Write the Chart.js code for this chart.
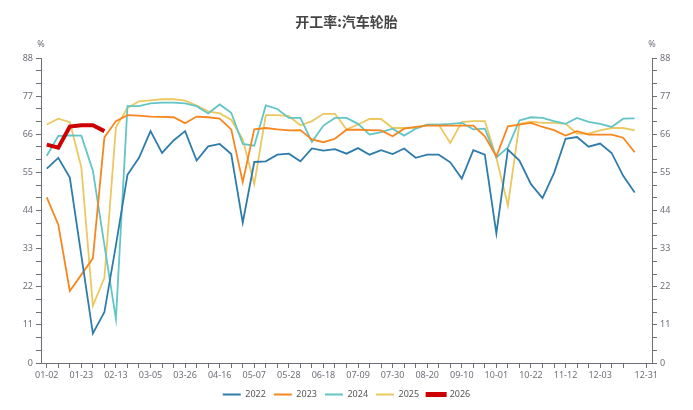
<!DOCTYPE html>
<html>
<head>
<meta charset="utf-8">
<script src="https://cdn.jsdelivr.net/npm/chart.js@4.4.1/dist/chart.umd.min.js"></script>
<style>
  html, body { margin: 0; padding: 0; background: #fff; }
  #wrap { width: 693px; height: 410px; }
</style>
</head>
<body>
<div id="wrap"><canvas id="c" width="693" height="410"></canvas></div>
<script>
const titleText = '开工率:汽车轮胎';
const unitLabel = '%';

const categories = ['01-02','01-09','01-16','01-23','01-30','02-06','02-13','02-20','02-27','03-05','03-12','03-19','03-26','04-02','04-09','04-16','04-23','04-30','05-07','05-14','05-21','05-28','06-04','06-11','06-18','06-25','07-02','07-09','07-16','07-23','07-30','08-06','08-13','08-20','08-27','09-03','09-10','09-17','09-24','10-01','10-08','10-15','10-22','10-29','11-05','11-12','11-19','11-26','12-03','12-10','12-17','12-24','12-31'];

const xTickLabels = ['01-02','01-23','02-13','03-05','03-26','04-16','05-07','05-28','06-18','07-09','07-30','08-20','09-10','10-01','10-22','11-12','12-03','12-31'];
const hiddenTickCategory = '12-24';

const yTicks = [0, 11, 22, 33, 44, 55, 66, 77, 88];

const seriesNames = ['2022', '2023', '2024', '2025', '2026'];

const v2022 = [56.1,59.2,53.5,31.0,8.5,14.7,34.0,54.3,59.2,66.9,60.6,64.2,66.9,58.4,62.5,63.2,60.3,40.5,58.0,58.2,60.1,60.4,58.2,61.9,61.3,61.7,60.4,62.0,60.1,61.4,60.3,61.9,59.2,60.1,60.1,57.9,53.2,61.4,60.1,37.4,61.6,58.4,51.6,47.6,54.8,64.7,65.2,62.4,63.3,60.6,54.0,49.2,null];
const v2023 = [47.8,39.9,20.8,25.5,30.2,65.1,69.8,71.5,71.4,71.1,71.0,70.9,69.2,71.1,70.9,70.5,67.4,52.2,67.4,67.8,67.4,67.1,67.2,64.5,63.7,64.7,67.3,67.3,67.2,67.1,65.4,67.6,68.1,68.5,68.5,68.5,68.5,68.5,65.4,59.6,68.3,68.8,69.3,68.1,67.2,65.6,66.9,65.9,65.9,65.9,65.0,60.8,null];
const v2024 = [59.8,65.5,65.7,65.6,55.5,34.0,12.7,74.1,74.1,74.9,75.1,75.1,74.9,74.1,72.0,74.6,72.2,63.2,62.7,74.3,73.3,70.7,70.7,63.8,68.5,70.7,70.7,69.0,65.9,66.6,67.6,65.6,67.6,68.8,68.8,69.0,69.3,67.4,67.6,59.3,62.2,70.0,70.9,70.7,69.8,69.0,70.7,69.6,69.0,68.1,70.5,70.6,null];
const v2025 = [68.8,70.5,69.5,56.4,16.5,24.6,68.0,73.6,75.5,75.8,76.1,76.1,75.7,74.3,72.6,72.0,70.2,64.5,51.6,71.5,71.5,71.2,68.6,69.8,71.9,71.9,67.4,68.8,70.4,70.4,67.8,67.8,67.8,68.8,68.8,63.5,69.5,69.8,69.8,59.2,45.4,69.0,69.6,69.3,69.3,69.0,66.2,66.2,67.1,67.8,67.8,67.1,null];
const v2026 = [63.0,62.1,68.2,68.6,68.6,66.9];

const seriesValues = [v2022, v2023, v2024, v2025, v2026];
const seriesColors = ['#2e7cab', '#f7861f', '#62c5c6', '#ebc860', '#cc0000'];
const seriesWidths = [1.8, 1.8, 1.8, 1.8, 4];
const legendStroke = [0, 0, 0, 0, 3];

const FONT = '"Noto Sans", "Open Sans", sans-serif';
const AXIS_COLOR = '#6e7079';

const datasets = seriesNames.map((name, i) => ({
  label: name,
  data: seriesValues[i],
  borderColor: seriesColors[i],
  backgroundColor: seriesColors[i],
  borderWidth: seriesWidths[i],
  pointRadius: 0,
  pointHoverRadius: 0,
  tension: 0,
  fill: false,
  spanGaps: false,
  order: i === 4 ? 0 : i + 1
}));

function buildYTicks(scale) {
  const t = [];
  for (let k = 0; k < yTicks.length; k++) {
    t.push({ value: yTicks[k] });
    if (k < yTicks.length - 1) {
      const step = (yTicks[k + 1] - yTicks[k]) / 3;
      t.push({ value: yTicks[k] + step });
      t.push({ value: yTicks[k] + 2 * step });
    }
  }
  scale.ticks = t;
}
function yLabel(v) {
  const r = Math.round(v * 1000) / 1000;
  return yTicks.includes(r) ? String(r) : '';
}

const unitPlugin = {
  id: 'unitPlugin',
  afterDraw(chart) {
    const ctx = chart.ctx;
    const a = chart.chartArea;
    ctx.save();
    ctx.font = '9px ' + FONT;
    ctx.fillStyle = AXIS_COLOR;
    ctx.textAlign = 'center';
    ctx.textBaseline = 'middle';
    ctx.fillText(unitLabel, a.left, 44);
    ctx.fillText(unitLabel, a.right, 44);
    ctx.restore();
  }
};

const yCommon = {
  min: 0,
  max: 88,
  afterBuildTicks: buildYTicks,
  ticks: {
    autoSkip: false,
    padding: 3,
    color: AXIS_COLOR,
    font: { size: 9, family: FONT },
    callback: yLabel
  },
  grid: {
    drawOnChartArea: false,
    drawTicks: true,
    tickLength: 5,
    color: AXIS_COLOR
  },
  border: { display: true, color: AXIS_COLOR, width: 1 }
};

new Chart(document.getElementById('c'), {
  type: 'line',
  data: { labels: categories, datasets: datasets },
  plugins: [unitPlugin],
  options: {
    responsive: false,
    animation: false,
    devicePixelRatio: 1,
    layout: { padding: { top: 0, bottom: 1, left: 0, right: 0 } },
    plugins: {
      title: {
        display: true,
        text: titleText,
        color: '#464646',
        font: { size: 14, weight: 'bold', family: '"Noto Sans CJK SC", ' + FONT, lineHeight: 1.2 },
        padding: { top: 13.6, bottom: 27.6 }
      },
      legend: {
        display: true,
        position: 'bottom',
        labels: {
          boxWidth: 18,
          boxHeight: 2,
          padding: 8,
          color: '#555',
          font: { size: 9, family: FONT },
          generateLabels(chart) {
            return chart.data.datasets.map((ds, i) => ({
              text: ds.label,
              fillStyle: ds.borderColor,
              strokeStyle: ds.borderColor,
              lineWidth: legendStroke[i],
              hidden: !chart.isDatasetVisible(i),
              datasetIndex: i,
              fontColor: '#555'
            }));
          }
        }
      },
      tooltip: { enabled: false }
    },
    scales: {
      x: {
        type: 'category',
        offset: true,
        afterFit(scale) { scale.height = 19; },
        ticks: {
          autoSkip: false,
          maxRotation: 0,
          minRotation: 0,
          padding: 2,
          color: AXIS_COLOR,
          font: { size: 9, family: FONT },
          callback(value, index) {
            const lab = categories[index];
            if (lab === hiddenTickCategory) return null;
            return xTickLabels.includes(lab) ? lab : '';
          }
        },
        grid: {
          offset: false,
          drawOnChartArea: false,
          drawTicks: true,
          tickLength: 5,
          color: AXIS_COLOR
        },
        border: { display: true, color: AXIS_COLOR, width: 1 }
      },
      y: Object.assign({}, yCommon, {
        position: 'left',
        afterFit(scale) { scale.width = 41; }
      }),
      y2: Object.assign({}, yCommon, {
        position: 'right',
        afterFit(scale) { scale.width = 41; }
      })
    }
  }
});
</script>
</body>
</html>
